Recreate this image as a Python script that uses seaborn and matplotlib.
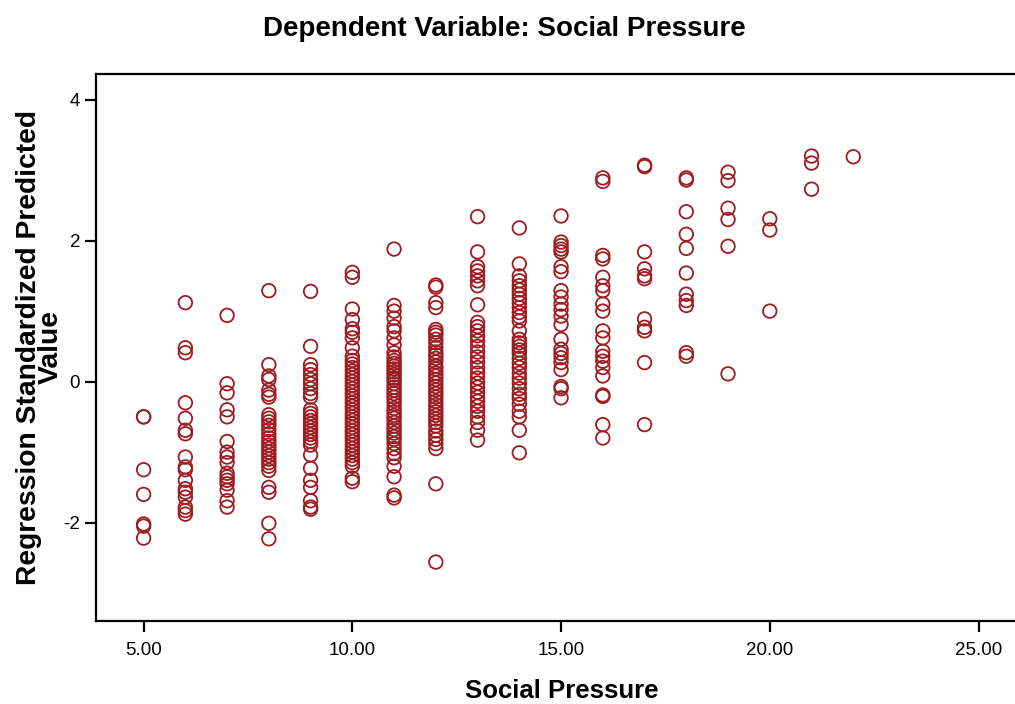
import matplotlib
matplotlib.use("Agg")
import matplotlib.pyplot as plt
import seaborn as sns
import pandas as pd

# Predicted values (standardized) for each Social Pressure score
sp5 = [-0.50, -0.50, -1.25, -1.60, -2.02, -2.05, -2.22]
sp6 = [1.12, 0.48, 0.41, -0.30, -0.52, -0.69, -0.74, -1.07, -1.21, -1.25, -1.40,
       -1.52, -1.57, -1.64, -1.78, -1.83, -1.88]
sp7 = [0.94, -0.03, -0.16, -0.40, -0.50, -0.85, -1.00, -1.07, -1.15, -1.30, -1.35,
       -1.40, -1.45, -1.54, -1.69, -1.78]
sp8 = [1.29, 0.24, 0.08, 0.03, -0.12, -0.18, -0.22, -0.47, -0.52, -0.57, -0.62,
       -0.68, -0.74, -0.80, -0.85, -0.90, -0.95, -1.00, -1.05, -1.10, -1.15, -1.20,
       -1.26, -1.50, -1.57, -2.01, -2.23]
sp9 = [1.28, 0.50, 0.24, 0.17, 0.10, 0.03, -0.03, -0.10, -0.17, -0.22, -0.40, -0.45,
       -0.50, -0.55, -0.60, -0.65, -0.70, -0.75, -0.80, -0.85, -0.90, -1.04, -1.23,
       -1.40, -1.50, -1.69, -1.78, -1.81]
sp10 = [1.55, 1.48, 1.03, 0.88, 0.75, 0.70, 0.62, 0.48, 0.36, 0.30, 0.25, 0.20, 0.15,
        0.10, 0.05, 0.00, -0.05, -0.10, -0.15, -0.20, -0.25, -0.30, -0.35, -0.40,
        -0.45, -0.50, -0.55, -0.60, -0.65, -0.70, -0.75, -0.80, -0.85, -0.90, -0.95,
        -1.00, -1.05, -1.10, -1.15, -1.20, -1.37, -1.42]
sp11 = [1.88, 1.08, 1.00, 0.90, 0.78, 0.72, 0.62, 0.52, 0.41, 0.35, 0.30, 0.26, 0.22,
        0.18, 0.14, 0.10, 0.05, 0.02, -0.03, -0.08, -0.12, -0.17, -0.22, -0.27, -0.32,
        -0.38, -0.43, -0.48, -0.52, -0.58, -0.63, -0.68, -0.73, -0.78, -0.82, -0.88,
        -0.95, -1.02, -1.08, -1.20, -1.35, -1.61, -1.65]
sp12 = [1.37, 1.34, 1.12, 1.05, 0.74, 0.70, 0.66, 0.60, 0.55, 0.48, 0.42, 0.38, 0.33,
        0.28, 0.22, 0.18, 0.12, 0.08, 0.03, -0.02, -0.07, -0.12, -0.17, -0.22, -0.28,
        -0.33, -0.38, -0.43, -0.48, -0.53, -0.58, -0.63, -0.70, -0.76, -0.82, -0.88,
        -0.95, -1.45, -2.56]
sp13 = [2.34, 1.84, 1.63, 1.57, 1.50, 1.43, 1.36, 1.09, 0.84, 0.78, 0.72, 0.65, 0.58,
        0.50, 0.42, 0.35, 0.28, 0.20, 0.12, 0.05, -0.02, -0.08, -0.15, -0.22, -0.28,
        -0.35, -0.42, -0.50, -0.58, -0.69, -0.83]
sp14 = [2.18, 1.67, 1.50, 1.43, 1.36, 1.30, 1.24, 1.18, 1.12, 1.05, 0.98, 0.92, 0.86,
        0.72, 0.60, 0.55, 0.50, 0.45, 0.40, 0.33, 0.26, 0.20, 0.12, 0.05, -0.02, -0.10,
        -0.18, -0.24, -0.32, -0.42, -0.50, -0.69, -1.01]
sp15 = [2.35, 1.98, 1.93, 1.88, 1.84, 1.63, 1.56, 1.29, 1.20, 1.10, 1.02, 0.93, 0.81,
        0.60, 0.46, 0.40, 0.34, 0.27, 0.17, -0.07, -0.10, -0.23]
sp16 = [2.89, 2.84, 1.79, 1.74, 1.48, 1.36, 1.29, 1.10, 1.00, 0.72, 0.62, 0.43, 0.36,
        0.29, 0.20, 0.08, -0.19, -0.21, -0.61, -0.80]
sp17 = [3.07, 3.05, 1.84, 1.60, 1.50, 1.46, 0.89, 0.77, 0.72, 0.27, -0.61]
sp18 = [2.89, 2.86, 2.41, 2.09, 1.89, 1.54, 1.24, 1.15, 1.08, 0.41, 0.36]
sp19 = [2.97, 2.85, 2.46, 2.30, 1.92, 0.11]
sp20 = [2.31, 2.15, 1.00]
sp21 = [3.20, 3.10, 2.73]
sp22 = [3.19]

scores = [5, 6, 7, 8, 9, 10, 11, 12, 13, 14, 15, 16, 17, 18, 19, 20, 21, 22]
groups = [sp5, sp6, sp7, sp8, sp9, sp10, sp11, sp12, sp13, sp14, sp15, sp16,
          sp17, sp18, sp19, sp20, sp21, sp22]

xticks = [5, 10, 15, 20, 25]
xtick_labels = ["5.00", "10.00", "15.00", "20.00", "25.00"]
yticks = [-2, 0, 2, 4]
ytick_labels = ["-2", "0", "2", "4"]

rows = [(s, v) for s, g in zip(scores, groups) for v in g]
df = pd.DataFrame(rows, columns=["Social Pressure", "Predicted"])

sns.set_style("white")
plt.rcParams["font.family"] = ["Liberation Sans", "DejaVu Sans"]
plt.rcParams["text.color"] = "black"
plt.rcParams["axes.labelcolor"] = "black"

fig = plt.figure(figsize=(10.15, 7.04), dpi=100)
ax = fig.add_axes([0.0946, 0.1175, 0.904, 0.778])

sns.scatterplot(data=df, x="Social Pressure", y="Predicted", ax=ax,
                marker="o", s=95, facecolor="none", edgecolor="#9e1b20",
                linewidth=1.3)

ax.set_xlim(3.86, 25.84)
ax.set_ylim(-3.40, 4.37)
ax.set_xticks(xticks)
ax.set_xticklabels(xtick_labels)
ax.set_yticks(yticks)
ax.set_yticklabels(ytick_labels)

for side in ["left", "bottom", "top"]:
    ax.spines[side].set_visible(True)
    ax.spines[side].set_color("black")
    ax.spines[side].set_linewidth(1.6)
ax.spines["right"].set_visible(False)

ax.tick_params(axis="both", which="major", direction="out", length=8, width=1.6,
               colors="black", labelcolor="black", labelsize=13.5,
               left=True, bottom=True)
ax.tick_params(axis="x", pad=7)

ax.set_xlabel("Social Pressure", fontsize=18.5, fontweight="bold", color="black")
ax.xaxis.set_label_coords(0.508, -0.106)
ax.set_ylabel("Regression Standardized Predicted\nValue", fontsize=20.3,
              fontweight="bold", linespacing=0.8, color="black")
ax.yaxis.set_label_coords(-0.035, 0.5)
fig.suptitle("Dependent Variable: Social Pressure", x=0.497, y=0.977,
             fontsize=20, fontweight="bold", color="black")

fig.savefig("out.png", dpi=100)
